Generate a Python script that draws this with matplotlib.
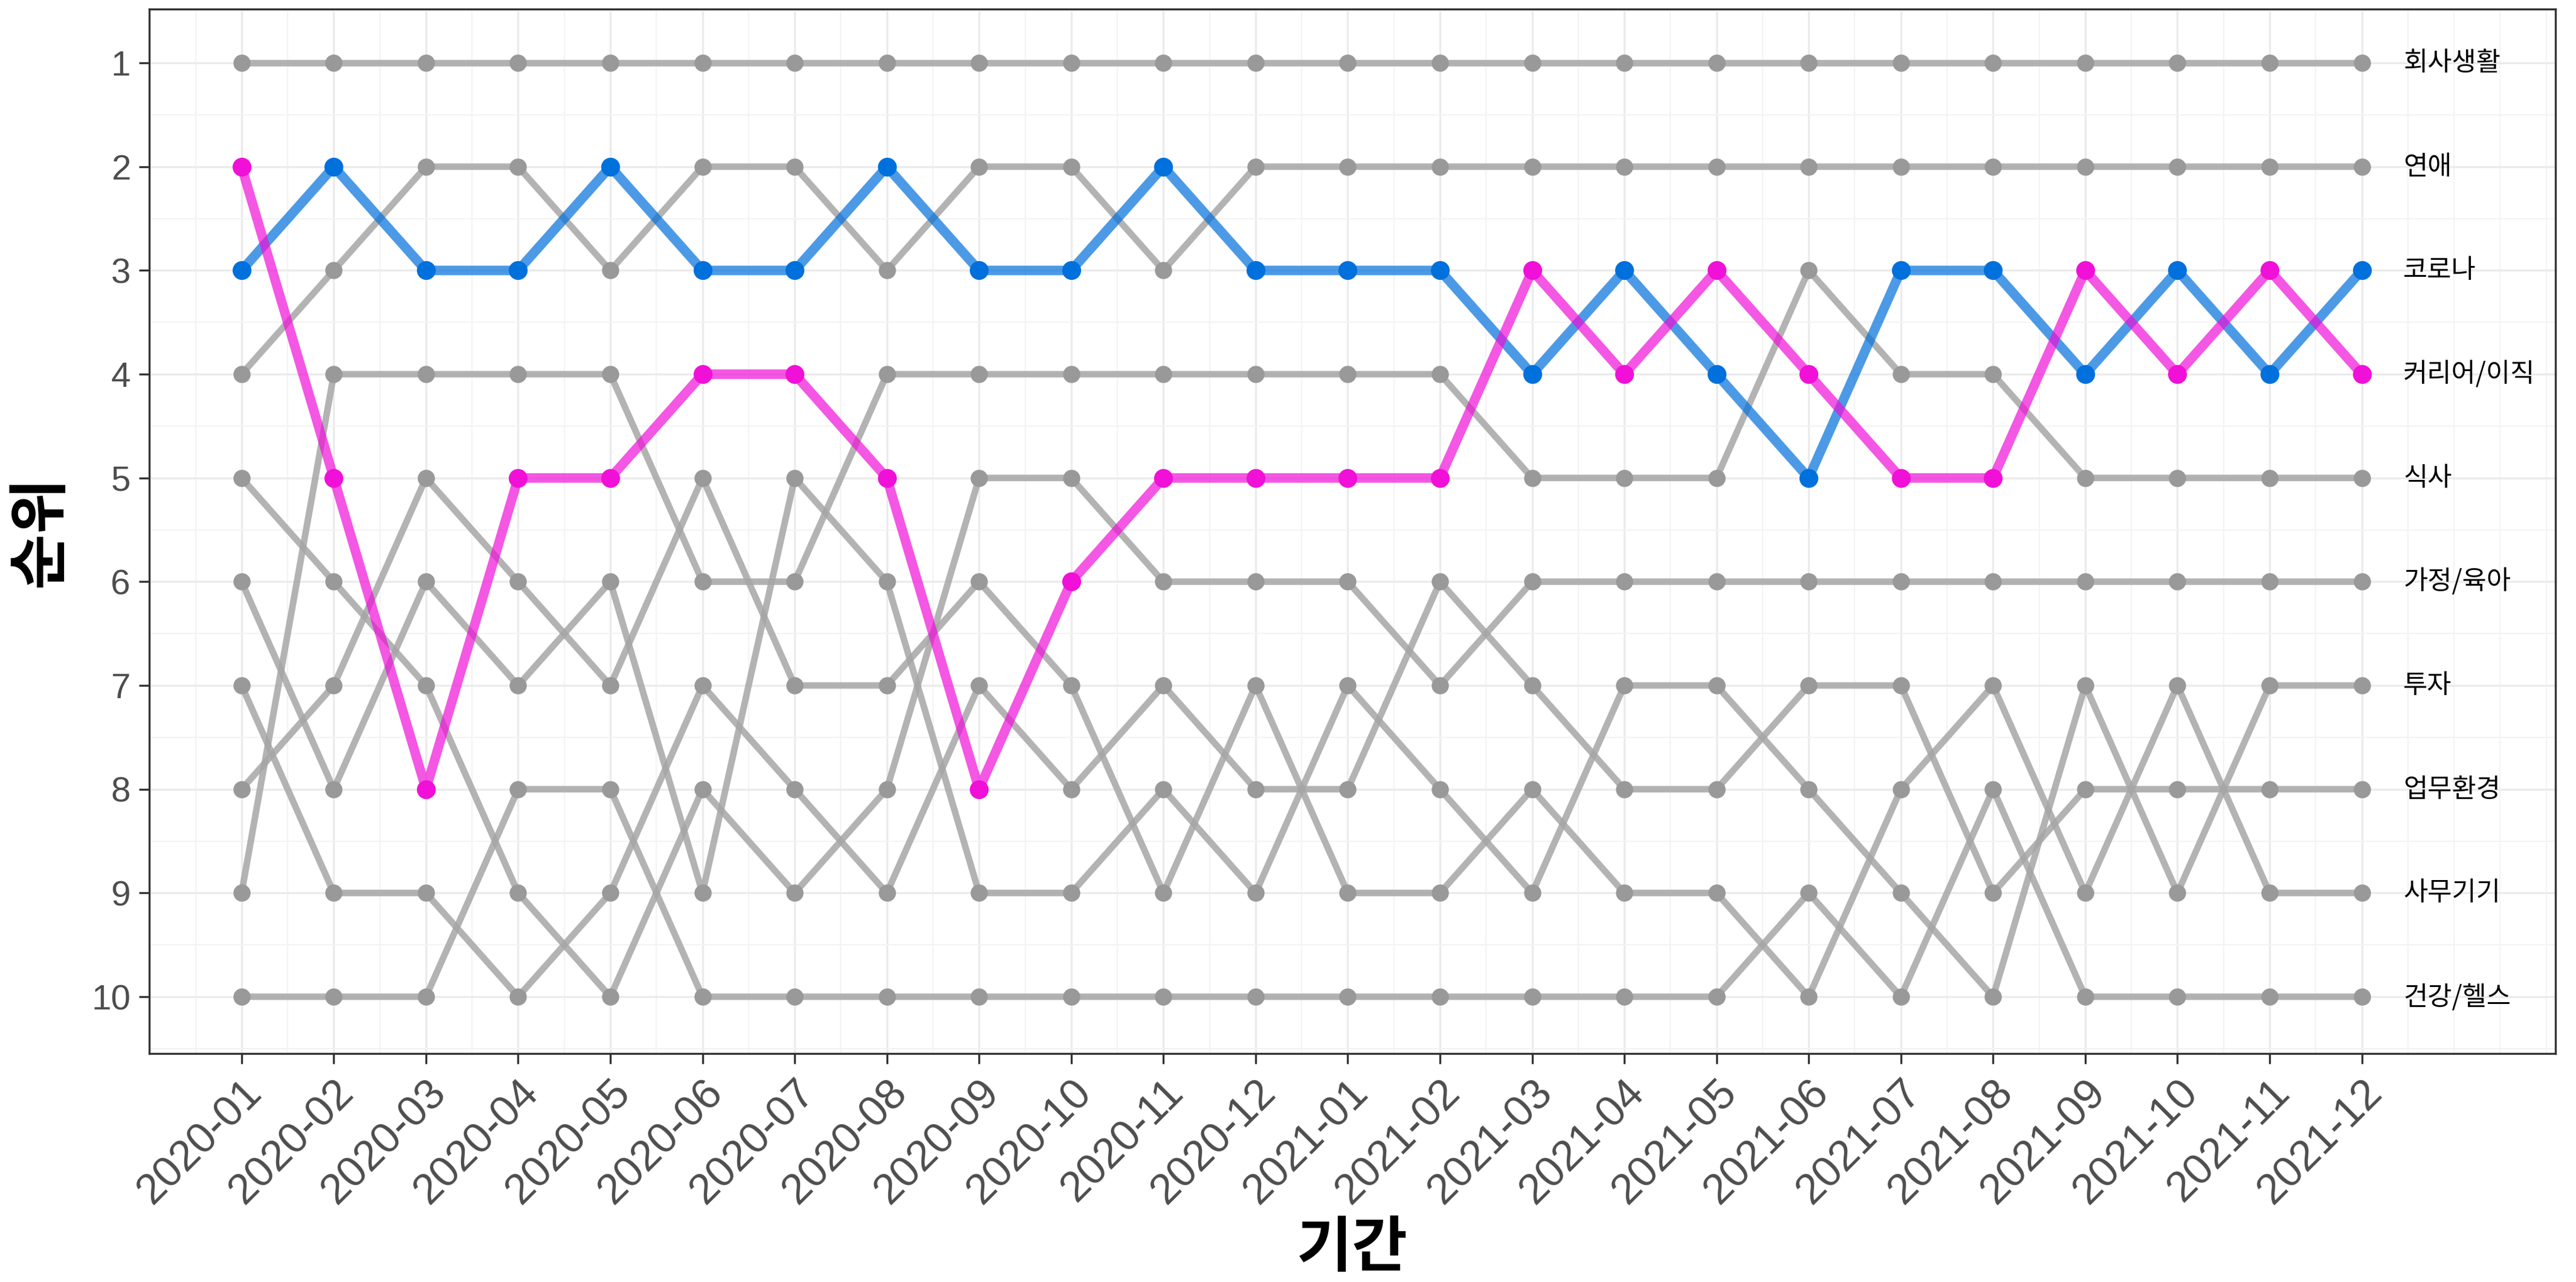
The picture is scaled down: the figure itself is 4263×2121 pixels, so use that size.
import matplotlib
matplotlib.use("Agg")
import matplotlib.pyplot as plt
from matplotlib.ticker import MultipleLocator

plt.rcParams['font.family'] = ['Liberation Sans', 'Noto Sans CJK KR', 'DejaVu Sans']

months = ['2020-01', '2020-02', '2020-03', '2020-04', '2020-05', '2020-06',
          '2020-07', '2020-08', '2020-09', '2020-10', '2020-11', '2020-12',
          '2021-01', '2021-02', '2021-03', '2021-04', '2021-05', '2021-06',
          '2021-07', '2021-08', '2021-09', '2021-10', '2021-11', '2021-12']

company = [1] * 24
love = [4, 3, 2, 2, 3, 2, 2, 3, 2, 2, 3, 2, 2, 2, 2, 2, 2, 2, 2, 2, 2, 2, 2, 2]
corona = [3, 2, 3, 3, 2, 3, 3, 2, 3, 3, 2, 3, 3, 3, 4, 3, 4, 5, 3, 3, 4, 3, 4, 3]
career = [2, 5, 8, 5, 5, 4, 4, 5, 8, 6, 5, 5, 5, 5, 3, 4, 3, 4, 5, 5, 3, 4, 3, 4]
meal = [9, 4, 4, 4, 4, 6, 6, 4, 4, 4, 4, 4, 4, 4, 5, 5, 5, 3, 4, 4, 5, 5, 5, 5]
family = [5, 6, 7, 9, 10, 8, 9, 8, 5, 5, 6, 6, 6, 7, 6, 6, 6, 6, 6, 6, 6, 6, 6, 6]
invest = [6, 8, 6, 7, 6, 9, 5, 6, 9, 9, 8, 9, 7, 8, 9, 7, 7, 8, 9, 10, 7, 9, 7, 7]
workenv = [7, 9, 9, 10, 9, 7, 8, 9, 7, 8, 7, 8, 8, 6, 7, 8, 8, 7, 7, 9, 8, 8, 8, 8]
office = [8, 7, 5, 6, 7, 5, 7, 7, 6, 7, 9, 7, 9, 9, 8, 9, 9, 10, 8, 7, 9, 7, 9, 9]
health = [10, 10, 10, 8, 8, 10, 10, 10, 10, 10, 10, 10, 10, 10, 10, 10, 10, 9, 10, 8, 10, 10, 10, 10]

series = {
    '회사생활': company, '연애': love, '코로나': corona, '커리어/이직': career,
    '식사': meal, '가정/육아': family, '투자': invest, '업무환경': workenv,
    '사무기기': office, '건강/헬스': health,
}
highlight = {'코로나': '#0070DC', '커리어/이직': '#F010D8'}

fig, ax = plt.subplots(figsize=(14.21, 7.07), dpi=300)
fig.subplots_adjust(left=0.058, right=0.992, top=0.993, bottom=0.178)

x = list(range(len(months)))
for name, vals in series.items():
    if name in highlight:
        continue
    ax.plot(x, vals, color='#A6A6A6', lw=2.6, alpha=0.85, zorder=2)
    ax.scatter(x, vals, s=34, color='#999999', zorder=3)
for name, col in highlight.items():
    vals = series[name]
    ax.plot(x, vals, color=col, lw=3.8, alpha=0.7, zorder=4)
    ax.scatter(x, vals, s=42, color=col, zorder=5)

for name, vals in series.items():
    ax.text(x[-1] + 0.45, vals[-1], name, va='center', ha='left', fontsize=10.5,
            color='black', family=['Noto Sans CJK KR', 'DejaVu Sans'])

ax.set_xlim(-1.0, 25.1)
ax.set_ylim(10.55, 0.48)
ax.set_xticks(x)
ax.set_xticklabels(months, rotation=45, ha='right', rotation_mode='anchor', fontsize=17, color='#4D4D4D')
ax.set_yticks(range(1, 11))
ax.tick_params(axis='y', labelsize=14, labelcolor='#4D4D4D')
ax.xaxis.set_minor_locator(MultipleLocator(0.5))
ax.yaxis.set_minor_locator(MultipleLocator(0.5))
ax.tick_params(which='minor', length=0)
ax.tick_params(which='major', length=4, color='#333333')
ax.grid(which='major', color='#EBEBEB', lw=0.8)
ax.grid(which='minor', color='#F3F3F3', lw=0.5)
ax.set_axisbelow(True)
for s in ax.spines.values():
    s.set_color('#333333')
    s.set_linewidth(0.8)

ax.set_xlabel('기간', fontsize=24, fontweight='bold', labelpad=2,
              family=['Noto Sans CJK KR', 'DejaVu Sans'])
ax.set_ylabel('순위', fontsize=24, fontweight='bold', labelpad=8,
              family=['Noto Sans CJK KR', 'DejaVu Sans'])

fig.savefig('out.png', dpi=300)
